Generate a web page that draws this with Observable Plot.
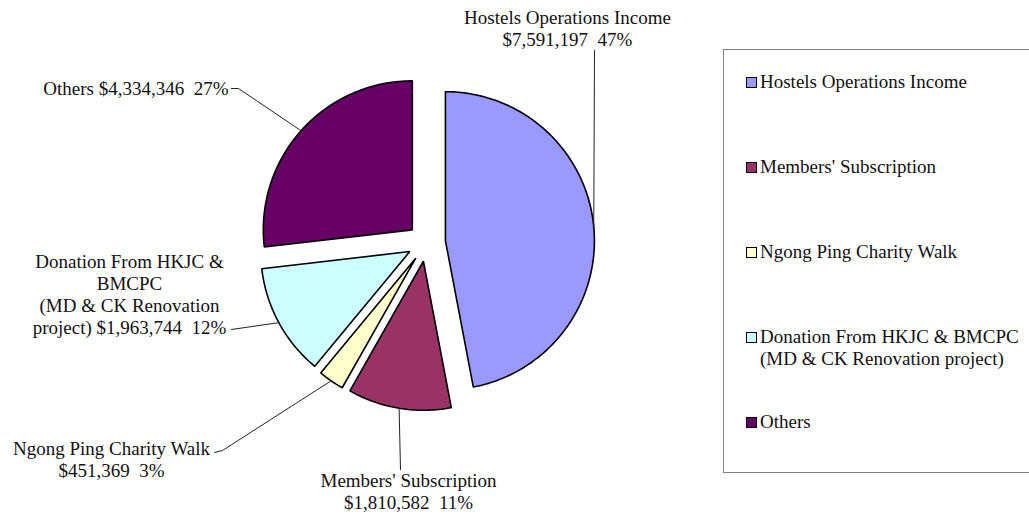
<!DOCTYPE html>
<html>
<head>
<meta charset="utf-8">
<script src="https://cdn.jsdelivr.net/npm/d3@7"></script>
<script src="https://cdn.jsdelivr.net/npm/@observablehq/plot@0.6"></script>
<style>
  body { margin: 0; background: #fff; }
  #wrap { position: relative; width: 1029px; height: 515px; overflow: hidden; font-family: "Liberation Serif", "Times New Roman", serif; }
  #legend { position: absolute; left: 723px; top: 49px; width: 330px; height: 424px; border: 1px solid #808080; box-sizing: border-box; background: #fff; }
  .item { position: absolute; left: 36px; font-size: 19px; line-height: 22px; color: #111; padding-left: 0; }
  .sw { position: absolute; left: -14px; top: 6px; width: 9px; height: 9px; border: 1px solid #000; }
  .txt { position: absolute; left: 0; white-space: nowrap; }
</style>
</head>
<body>
<div id="wrap"></div>
<script>
// ---- data ----
const categories = [
  "Hostels Operations Income",
  "Members' Subscription",
  "Ngong Ping Charity Walk",
  "Donation From HKJC & BMCPC (MD & CK Renovation project)",
  "Others"
];
const values = [7591197, 1810582, 451369, 1963744, 4334346];
const legendLabels = [
  "Hostels Operations Income",
  "Members' Subscription",
  "Ngong Ping Charity Walk",
  "Donation From HKJC & BMCPC\n(MD & CK Renovation project)",
  "Others"
];
const labelNames = [
  "Hostels Operations Income\n",
  "Members' Subscription\n",
  "Ngong Ping Charity Walk\n",
  "Donation From HKJC &\nBMCPC\n(MD & CK Renovation\nproject) ",
  "Others "
];

// ---- style / layout ----
const colors = ["#9999FF", "#993366", "#FFFFCC", "#CCFFFF", "#660066"];
const CX = 426, CY = 242, R = 149, EXPLODE = 19;
// label anchor placement (x, y, textAnchor) and leader elbow points
const labelLayout = [
  {x: 567, y: 27, anchor: "middle", leader: [[594, 50]]},
  {x: 408, y: 490, anchor: "middle", leader: [[400, 469]]},
  {x: 111, y: 458, anchor: "middle", leader: [[222, 450], [214, 452]]},
  {x: 129, y: 293, anchor: "middle", leader: [[231, 329]]},
  {x: 228, y: 87, anchor: "end", leader: [[238, 88], [231, 88]]}
];

const total = d3.sum(values);
const fmt = d3.format("$,");
const rad = Math.PI / 180;

const points = [];
const leaders = [];
const labels = [];
let acc = 0;
values.forEach((v, i) => {
  const a0 = acc / total * 360;
  acc += v;
  const a1 = acc / total * 360;
  const mid = (a0 + a1) / 2;
  const ax = CX + EXPLODE * Math.sin(mid * rad);
  const ay = CY - EXPLODE * Math.cos(mid * rad);
  points.push({name: categories[i], color: colors[i], x: ax, y: ay});
  const n = Math.max(2, Math.ceil((a1 - a0) / 1));
  for (let k = 0; k <= n; k++) {
    const a = a0 + (a1 - a0) * k / n;
    points.push({name: categories[i], color: colors[i], x: ax + R * Math.sin(a * rad), y: ay - R * Math.cos(a * rad)});
  }
  const mx = ax + R * Math.sin(mid * rad), my = ay - R * Math.cos(mid * rad);
  leaders.push({id: i, x: mx, y: my});
  labelLayout[i].leader.forEach(p => leaders.push({id: i, x: p[0], y: p[1]}));
  const pct = Math.round(v / total * 100) + "%";
  labels.push({
    text: labelNames[i] + fmt(v) + "\u00a0 " + pct,
    x: labelLayout[i].x, y: labelLayout[i].y, anchor: labelLayout[i].anchor
  });
});

const chart = Plot.plot({
  width: 1029,
  height: 515,
  margin: 0,
  x: {domain: [0, 1029], range: [0, 1029], axis: null},
  y: {domain: [0, 515], range: [0, 515], axis: null},
  color: {type: "identity"},
  style: {fontFamily: "'Liberation Serif', 'Times New Roman', serif", background: "transparent"},
  marks: [
    Plot.line(points, {x: "x", y: "y", z: "name", fill: "color", stroke: "#000", strokeWidth: 1.6, curve: "linear-closed", strokeLinejoin: "miter"}),
    Plot.line(leaders, {x: "x", y: "y", z: "id", stroke: "#222", strokeWidth: 1}),
    Plot.text(labels.filter(d => d.anchor === "middle"), {x: "x", y: "y", text: "text", textAnchor: "middle", fontSize: 19, lineHeight: 1.16, fill: "#111"}),
    Plot.text(labels.filter(d => d.anchor === "end"), {x: "x", y: "y", text: "text", textAnchor: "end", fontSize: 19, lineHeight: 1.16, fill: "#111"})
  ]
});

const wrap = document.getElementById("wrap");
wrap.appendChild(chart);

// legend
const legend = document.createElement("div");
legend.id = "legend";
const tops = [21, 106, 191, 276, 361];
legendLabels.forEach((lab, i) => {
  const item = document.createElement("div");
  item.className = "item";
  item.style.top = tops[i] + "px";
  const sw = document.createElement("div");
  sw.className = "sw";
  sw.style.background = colors[i];
  const t = document.createElement("div");
  t.className = "txt";
  t.innerHTML = lab.split("\n").map(s => s.replace(/&/g, "&amp;")).join("<br>");
  item.appendChild(sw);
  item.appendChild(t);
  legend.appendChild(item);
});
wrap.appendChild(legend);
</script>
</body>
</html>
